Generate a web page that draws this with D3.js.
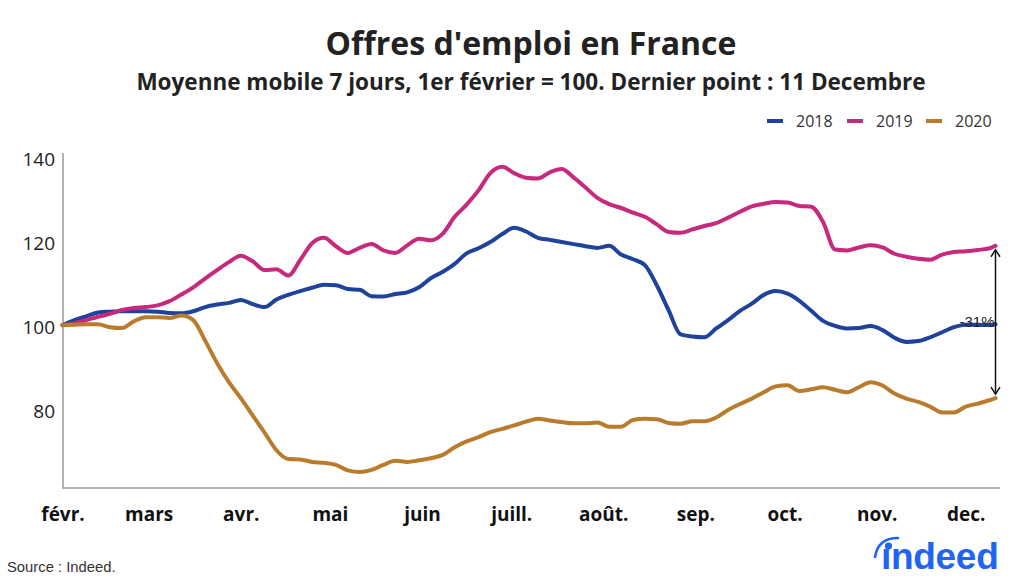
<!DOCTYPE html>
<html>
<head>
<meta charset="utf-8">
<script src="https://cdn.jsdelivr.net/npm/d3@7"></script>
<style>
  html, body { margin: 0; padding: 0; background: #fff; }
  svg { display: block; }
</style>
</head>
<body>
<svg id="chart" width="1024" height="582"></svg>
<script>
// ---------------- DATA ----------------
const title = "Offres d'emploi en France";
const subtitle = "Moyenne mobile 7 jours, 1er février = 100. Dernier point : 11 Decembre";
const seriesNames = ["2018", "2019", "2020"];
const seriesColors = ["#1f439b", "#c52a7c", "#b97c2c"];

// day offsets from 1 February
const days = [0,4,8,12,16,20,24,28,32,36,40,44,48,52,56,60,64,68,72,76,80,84,88,92,96,100,
  104,108,112,116,120,124,128,132,136,140,144,148,152,156,160,164,168,172,176,180,184,188,
  192,196,200,204,208,212,216,220,224,228,232,236,240,244,248,252,256,260,264,268,272,276,
  280,284,288,292,296,300,304,308,312,314];

const values2018 = [100,101.2,102.1,103,103.2,103.3,103.3,103.3,103.2,102.9,102.8,103.3,104.3,
  104.9,105.3,106,105,104.3,106.1,107.2,108.1,108.9,109.6,109.5,108.6,108.4,106.9,106.8,107.4,
  107.8,109,111.2,112.7,114.6,117.1,118.3,119.8,121.7,123.2,122.3,120.8,120.3,119.8,119.3,118.8,
  118.4,118.9,116.8,115.7,114.3,109.5,103.5,97.8,97.3,97.1,99.2,101.2,103.4,105.1,107.2,108.1,
  107.5,105.8,103.4,101,99.8,99.2,99.3,99.8,98.8,97,96,96.2,97.1,98.3,99.5,100.1,100.1,100,100.2];

const values2019 = [100,100.4,101.2,102,102.7,103.6,104.1,104.3,104.7,105.7,107.3,109,111.1,
  113.1,115,116.5,115.2,113.1,113.3,111.8,115.5,119.5,120.8,118.8,117.2,118.4,119.3,117.8,117.2,
  119,120.6,120.2,121.8,125.8,128.7,132.1,136.2,137.7,136.2,135.1,134.9,136.4,137.2,135.2,132.8,
  130.3,128.8,127.9,126.8,125.8,124,122.2,122,122.8,123.6,124.3,125.6,127,128.3,128.9,129.3,
  129.2,128.4,128.2,124.5,118,117.8,118.5,119,118.5,117,116.3,115.8,115.6,116.8,117.4,117.6,
  117.9,118.3,118.9];

const values2020 = [100,100.1,100.2,100.2,99.5,99.3,100.9,101.9,101.9,101.7,102.3,101.2,96.3,
  91,86.4,82.6,78.5,74.4,70.2,68.1,68,67.4,67.2,66.7,65.4,65,65.5,66.7,67.7,67.4,67.8,68.3,
  69.1,70.9,72.3,73.3,74.5,75.3,76.1,77,77.7,77.3,76.9,76.6,76.6,76.8,75.8,75.8,77.4,77.7,
  77.6,76.7,76.5,77.1,77.1,78,79.8,81.2,82.5,84,85.4,85.7,84.3,84.7,85.2,84.6,84,85.2,86.4,
  85.6,83.7,82.5,81.7,80.6,79.2,79.2,80.6,81.3,82.1,82.6];

const yTicks = [80, 100, 120, 140];
const monthLabels = ["févr.", "mars", "avr.", "mai", "juin", "juill.", "août.", "sep.", "oct.", "nov.", "dec."];
const changeLabel = "-31%";
const sourceText = "Source : Indeed.";

// ---------------- CHART ----------------
const svg = d3.select("#chart");
const start = new Date(Date.UTC(2020, 1, 1));
const end = new Date(Date.UTC(2020, 11, 11));
const dates = days.map(d => d3.utcDay.offset(start, d));
const series = [values2018, values2019, values2020].map((vals, i) => ({
  name: seriesNames[i], color: seriesColors[i],
  points: vals.map((v, j) => ({ date: dates[j], value: v }))
}));

const x = d3.scaleUtc().domain([start, end]).range([62.5, 995.5]);
const y = d3.scaleLinear().domain([61.2, 141]).range([488, 153]);

// Title
svg.append("text").attr("x", 531).attr("y", 55).attr("text-anchor", "middle")
  .style("font-family", "'Open Sans'").style("font-weight", 700).style("font-size", "32px")
  .style("fill", "#222").text(title);
svg.append("text").attr("x", 531).attr("y", 90).attr("text-anchor", "middle")
  .style("font-family", "'Open Sans'").style("font-weight", 700).style("font-size", "22.5px")
  .style("fill", "#222").text(subtitle);

// Legend
const legendX = [767, 847, 926];
const lg = svg.append("g");
series.forEach((s, i) => {
  lg.append("line").attr("x1", legendX[i]).attr("x2", legendX[i] + 16)
    .attr("y1", 121).attr("y2", 121).attr("stroke", s.color).attr("stroke-width", 4);
  lg.append("text").attr("x", legendX[i] + 29).attr("y", 127)
    .style("font-family", "'Open Sans'").style("font-size", "16px").style("fill", "#333")
    .text(s.name);
});

// Axes
const yAxis = d3.axisLeft(y).tickValues(yTicks).tickSize(0).tickPadding(8).tickFormat(d3.format("d"));
const gy = svg.append("g").attr("transform", "translate(63,0)").call(yAxis);
gy.select(".domain").remove();
gy.selectAll("text").style("font-family", "'Open Sans'").style("font-size", "19px")
  .style("fill", "#222").attr("dy", "0.45em");

const monthStarts = d3.utcMonth.range(start, new Date(Date.UTC(2020, 11, 2)));
const xAxis = d3.axisBottom(x).tickValues(monthStarts).tickSize(0).tickPadding(20)
  .tickFormat((d, i) => monthLabels[i]);
const gx = svg.append("g").attr("transform", "translate(0,488)").call(xAxis);
gx.select(".domain").remove();
gx.selectAll("text").style("font-family", "'Open Sans'").style("font-weight", 700)
  .style("font-size", "19px").style("fill", "#111");

svg.append("line").attr("x1", 63).attr("x2", 63).attr("y1", 153).attr("y2", 488)
  .attr("stroke", "#999").attr("stroke-width", 1.5);
svg.append("line").attr("x1", 62.25).attr("x2", 1000).attr("y1", 488).attr("y2", 488)
  .attr("stroke", "#999").attr("stroke-width", 1.5);

// Lines
const line = d3.line().x(d => x(d.date)).y(d => y(d.value)).curve(d3.curveMonotoneX);
svg.append("g").selectAll("path").data(series).join("path")
  .attr("d", d => line(d.points)).attr("fill", "none")
  .attr("stroke", d => d.color).attr("stroke-width", 4)
  .attr("stroke-linejoin", "round").attr("stroke-linecap", "round");

// Annotation arrow
const lastIdx = days.length - 1;
const ax = x(dates[lastIdx]);
const yTop = y(values2019[lastIdx]) + 4;
const yBot = y(values2020[lastIdx]) - 4;
const ag = svg.append("g").attr("stroke", "#111").attr("stroke-width", 1.5).attr("fill", "none");
ag.append("line").attr("x1", ax).attr("x2", ax).attr("y1", yTop).attr("y2", yBot);
ag.append("path").attr("d", `M${ax - 4.5},${yTop + 7}L${ax},${yTop}L${ax + 4.5},${yTop + 7}`);
ag.append("path").attr("d", `M${ax - 4.5},${yBot - 7}L${ax},${yBot}L${ax + 4.5},${yBot - 7}`);
svg.append("text").attr("x", 977).attr("y", 327).attr("text-anchor", "middle")
  .style("font-family", "'Liberation Sans', Arial").style("font-size", "15px")
  .style("fill", "#222").text(changeLabel);

// Source
svg.append("text").attr("x", 7).attr("y", 572)
  .style("font-family", "'Liberation Sans', Arial").style("font-size", "14.8px")
  .style("fill", "#333").text(sourceText);

// Indeed logo
const logo = svg.append("g");
logo.append("text").attr("x", 881).attr("y", 569)
  .style("font-family", "'Liberation Sans', Arial").style("font-weight", 700)
  .style("font-size", "37px").style("letter-spacing", "-0.3px").style("fill", "#2164f3")
  .text("\u0131ndeed");
logo.append("circle").attr("cx", 888.5).attr("cy", 546).attr("r", 3.6).attr("fill", "#2164f3");
logo.append("path").attr("d", "M875,557 Q878,538 898,538").attr("fill", "none")
  .attr("stroke", "#2164f3").attr("stroke-width", 2.6).attr("stroke-linecap", "round");
</script>
</body>
</html>
